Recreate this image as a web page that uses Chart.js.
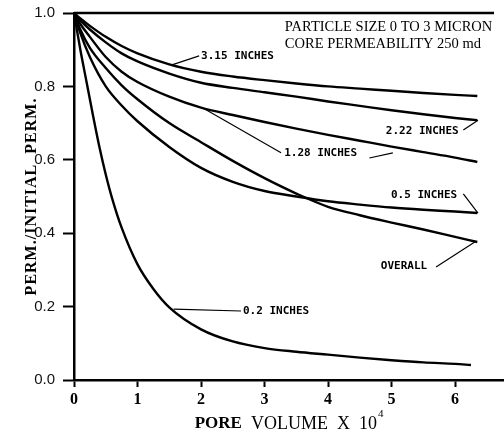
<!DOCTYPE html>
<html>
<head>
<meta charset="utf-8">
<script src="https://cdn.jsdelivr.net/npm/chart.js@4.4.1/dist/chart.umd.min.js"></script>
<style>
  html, body { margin: 0; padding: 0; background: #fff; }
  #wrap { width: 504px; height: 434px; position: relative; }
</style>
</head>
<body>
<div id="wrap"><canvas id="permChart"></canvas></div>
<script>
// pore volume (x 10^4) and perm ratio
const poreVol = [0, 0.1, 0.25, 0.5, 0.75, 1.0, 1.5, 2.0, 2.5, 3.0, 3.5, 4.0, 4.5, 5.0, 5.5, 6.0, 6.35];
const perm315 = [1.0, 0.985, 0.965, 0.935, 0.91, 0.89, 0.86, 0.84, 0.827, 0.817, 0.808, 0.8, 0.794, 0.788, 0.782, 0.777, 0.774];
const perm222 = [1.0, 0.98, 0.955, 0.92, 0.89, 0.868, 0.835, 0.81, 0.796, 0.784, 0.772, 0.759, 0.747, 0.735, 0.724, 0.714, 0.708];
const perm128 = [1.0, 0.97, 0.935, 0.88, 0.84, 0.812, 0.772, 0.742, 0.722, 0.703, 0.685, 0.668, 0.652, 0.636, 0.621, 0.606, 0.594];
const permOverall = [1.0, 0.955, 0.905, 0.85, 0.803, 0.765, 0.7, 0.648, 0.597, 0.55, 0.508, 0.472, 0.449, 0.429, 0.41, 0.39, 0.376];
const perm05 = [1.0, 0.945, 0.88, 0.8, 0.748, 0.705, 0.635, 0.578, 0.54, 0.515, 0.5, 0.487, 0.478, 0.47, 0.464, 0.459, 0.455];

const poreVol02 = [0, 0.1, 0.2, 0.3, 0.4, 0.5, 0.6, 0.75, 1.0, 1.25, 1.5, 2.0, 2.5, 3.0, 3.5, 4.0, 4.5, 5.0, 5.5, 6.0, 6.25];
const perm02 = [1.0, 0.9, 0.81, 0.72, 0.635, 0.56, 0.495, 0.415, 0.315, 0.248, 0.198, 0.138, 0.105, 0.087, 0.077, 0.069, 0.061, 0.054, 0.048, 0.044, 0.041];

const xTicks = [0, 1, 2, 3, 4, 5, 6];
const yTicks = [0, 0.2, 0.4, 0.6, 0.8, 1.0];

// curve labels (data coords of text left edge) and leader lines
const curveLabels = ['3.15 INCHES', '2.22 INCHES', '1.28 INCHES', '0.5 INCHES', 'OVERALL', '0.2 INCHES'];
const curveLabelX = [2.0, 4.91, 3.31, 4.99, 4.83, 2.66];
const curveLabelY = [0.883, 0.678, 0.619, 0.504, 0.31, 0.188];
const leaderFrom = [[1.97, 0.883], [6.13, 0.681], [3.26, 0.619], [6.13, 0.507], [5.70, 0.308], [2.63, 0.188], [4.65, 0.605]];
const leaderTo = [[1.53, 0.858], [6.36, 0.708], [2.03, 0.741], [6.36, 0.455], [6.31, 0.376], [1.57, 0.193], [5.02, 0.619]];

const noteLines = ['PARTICLE SIZE 0 TO 3 MICRON', 'CORE PERMEABILITY 250 md'];
const noteX = 3.32;
const noteY = [0.962, 0.916];

const toPts = (xs, ys) => xs.map((x, i) => ({ x: x, y: ys[i] }));

function curve(xs, ys) {
  return {
    data: toPts(xs, ys),
    borderColor: '#000',
    borderWidth: 2.4,
    pointRadius: 0,
    fill: false,
    cubicInterpolationMode: 'monotone'
  };
}

/* ========== LABELS, LEADERS, AXIS TITLES ========== */
const annotate = {
  id: 'annotate',
  afterDraw(chart) {
    const ctx = chart.ctx;
    const xs = chart.scales.x, ys = chart.scales.y;
    const area = chart.chartArea;
    ctx.save();

    // top frame line at 1.0
    ctx.strokeStyle = '#000';
    ctx.lineWidth = 2.5;
    ctx.beginPath();
    ctx.moveTo(area.left, ys.getPixelForValue(1.0));
    ctx.lineTo(area.right - 10, ys.getPixelForValue(1.0));
    ctx.stroke();

    // leaders
    ctx.lineWidth = 1.2;
    leaderFrom.forEach((p, i) => {
      const q = leaderTo[i];
      ctx.beginPath();
      ctx.moveTo(xs.getPixelForValue(p[0]), ys.getPixelForValue(p[1]));
      ctx.lineTo(xs.getPixelForValue(q[0]), ys.getPixelForValue(q[1]));
      ctx.stroke();
    });

    // curve labels
    ctx.fillStyle = '#000';
    ctx.font = 'bold 11px "DejaVu Sans Mono"';
    ctx.textBaseline = 'middle';
    ctx.textAlign = 'left';
    curveLabels.forEach((t, i) => {
      ctx.fillText(t, xs.getPixelForValue(curveLabelX[i]), ys.getPixelForValue(curveLabelY[i]));
    });

    // note top right
    ctx.font = '14.5px "Liberation Serif"';
    noteLines.forEach((t, i) => {
      ctx.fillText(t, xs.getPixelForValue(noteX), ys.getPixelForValue(noteY[i]));
    });

    // y title
    ctx.save();
    ctx.translate(area.left - 42, (area.top + area.bottom) / 2);
    ctx.rotate(-Math.PI / 2);
    ctx.textAlign = 'center';
    ctx.font = 'bold 16px "Liberation Serif"';
    ctx.letterSpacing = '1px';
    ctx.fillText('PERM./INITIAL  PERM.', 0, 0);
    ctx.restore();

    // x title
    const tx = xs.getPixelForValue(1.9);
    const ty = area.bottom + 44;
    ctx.font = 'bold 17px "Liberation Serif"';
    ctx.fillText('PORE', tx, ty);
    let w = ctx.measureText('PORE').width;
    ctx.font = '18px "Liberation Serif"';
    ctx.fillText('  VOLUME  X  10', tx + w, ty);
    w += ctx.measureText('  VOLUME  X  10').width;
    ctx.font = '11px "Liberation Serif"';
    ctx.fillText('4', tx + w + 1, ty - 10);

    ctx.restore();
  }
};

const ctx = document.getElementById('permChart').getContext('2d');
new Chart(ctx, {
  type: 'line',
  data: {
    datasets: [
      curve(poreVol, perm315),
      curve(poreVol, perm222),
      curve(poreVol, perm128),
      curve(poreVol, perm05),
      curve(poreVol, permOverall),
      curve(poreVol02, perm02)
    ]
  },
  options: {
    responsive: true,
    maintainAspectRatio: false,
    animation: false,
    layout: { padding: { top: 13, right: 0, left: 0, bottom: 0 } },
    plugins: { legend: { display: false }, tooltip: { enabled: false } },
    scales: {
      x: {
        type: 'linear',
        min: 0,
        max: 6.77,
        afterBuildTicks: s => { s.ticks = xTicks.map(v => ({ value: v })); },
        afterFit: s => { s.height = 54; },
        border: { display: true, color: '#000', width: 2.5 },
        grid: { drawOnChartArea: false, drawTicks: true, tickLength: 7, tickColor: '#000', tickWidth: 2 },
        ticks: {
          color: '#000',
          padding: 3,
          font: { family: 'Liberation Serif', size: 16, weight: 'bold' },
          callback: v => String(v)
        }
      },
      y: {
        min: 0,
        max: 1.0,
        afterBuildTicks: s => { s.ticks = yTicks.map(v => ({ value: v })); },
        afterFit: s => { s.width = 74; s.paddingTop = 0; s.paddingBottom = 0; },
        border: { display: true, color: '#000', width: 2.5 },
        grid: { drawOnChartArea: false, drawTicks: true, tickLength: 11, tickColor: '#000', tickWidth: 2 },
        ticks: {
          color: '#111',
          padding: 8,
          font: { family: 'Liberation Sans', size: 15 },
          callback: v => Number(v).toFixed(1)
        }
      }
    }
  },
  plugins: [annotate]
});
</script>
</body>
</html>
